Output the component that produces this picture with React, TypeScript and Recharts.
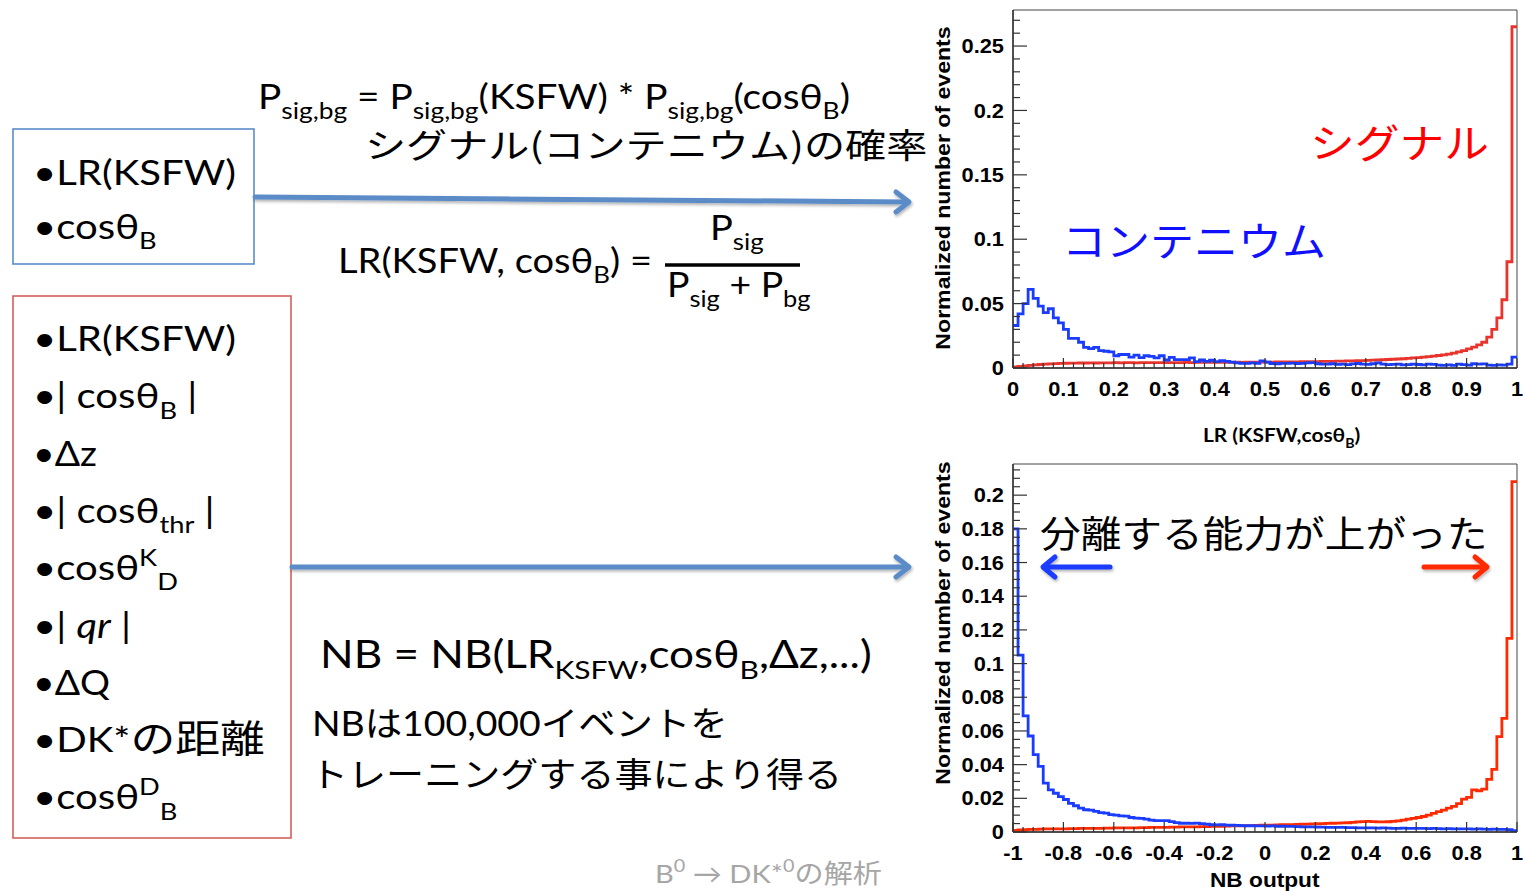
import React from "react";
import { LineChart, Line, XAxis, YAxis, ReferenceArea } from "recharts";

// ---- LR (KSFW, cos theta_B) histogram, 100 bins on [0, 1] ----
const LR_CONTINUUM = [
  0.033, 0.042, 0.05, 0.061, 0.054, 0.048, 0.043, 0.046, 0.039, 0.035,
  0.03, 0.023, 0.023, 0.02, 0.016, 0.015, 0.016, 0.0135, 0.013, 0.0125,
  0.0095, 0.0105, 0.0105, 0.0085, 0.01, 0.008, 0.0095, 0.009, 0.0078, 0.0095,
  0.0062, 0.0082, 0.0065, 0.0065, 0.0065, 0.0078, 0.005, 0.0062, 0.0052, 0.006,
  0.005, 0.0058, 0.0052, 0.0045, 0.004, 0.0036, 0.0036, 0.004, 0.0036, 0.0055,
  0.0045, 0.0035, 0.0033, 0.0036, 0.0036, 0.0038, 0.0035, 0.0036, 0.004, 0.0042,
  0.0033, 0.003, 0.003, 0.0033, 0.0028, 0.003, 0.0026, 0.0032, 0.0035, 0.003,
  0.0028, 0.0033, 0.004, 0.003, 0.0026, 0.0028, 0.003, 0.0024, 0.0026, 0.003,
  0.0027, 0.0024, 0.003, 0.0028, 0.0022, 0.002, 0.0024, 0.002, 0.003, 0.0026,
  0.0022, 0.0033, 0.003, 0.0032, 0.0022, 0.002, 0.0024, 0.0022, 0.003, 0.0085,
];
const LR_SIGNAL = [
  0.0008, 0.0012, 0.0016, 0.002, 0.0024, 0.0027, 0.003, 0.0032, 0.0034, 0.0036,
  0.0037, 0.0038, 0.0038, 0.0039, 0.0039, 0.004, 0.0039, 0.004, 0.004, 0.004,
  0.0041, 0.004, 0.0041, 0.0041, 0.004, 0.0041, 0.0042, 0.0041, 0.0041, 0.0042,
  0.0042, 0.0041, 0.0042, 0.0042, 0.0043, 0.0042, 0.0043, 0.0043, 0.0043, 0.0044,
  0.0043, 0.0044, 0.0044, 0.0044, 0.0045, 0.0044, 0.0045, 0.0045, 0.0046, 0.0045,
  0.0046, 0.0046, 0.0047, 0.0047, 0.0047, 0.0048, 0.0048, 0.0049, 0.0049, 0.005,
  0.005, 0.0051, 0.0052, 0.0052, 0.0053, 0.0054, 0.0055, 0.0056, 0.0057, 0.0058,
  0.0059, 0.0061, 0.0062, 0.0064, 0.0066, 0.0068, 0.007, 0.0072, 0.0075, 0.0078,
  0.0081, 0.0084, 0.0088, 0.0092, 0.0097, 0.0102, 0.0108, 0.0115, 0.0125, 0.0135,
  0.0148, 0.0162, 0.018, 0.02, 0.024, 0.03, 0.039, 0.053, 0.0825, 0.265,
];

// ---- NB output histogram, 100 bins on [-1, 1] ----
const NB_CONTINUUM = [
  0.18, 0.105, 0.069, 0.057, 0.046, 0.039, 0.029, 0.025, 0.023, 0.021,
  0.0193, 0.017, 0.0156, 0.0142, 0.0132, 0.013, 0.0122, 0.0115, 0.0112, 0.0103,
  0.01, 0.0096, 0.0094, 0.0086, 0.0082, 0.0081, 0.0076, 0.007, 0.0068, 0.0067,
  0.0067, 0.0062, 0.0056, 0.0052, 0.0052, 0.0051, 0.0053, 0.005, 0.0047, 0.0043,
  0.0042, 0.0043, 0.0041, 0.004, 0.0039, 0.0038, 0.0037, 0.0037, 0.0036, 0.0036,
  0.0035, 0.0036, 0.0034, 0.0034, 0.0033, 0.0033, 0.0032, 0.0031, 0.0031, 0.003,
  0.0029, 0.0029, 0.0028, 0.0028, 0.0027, 0.0027, 0.0026, 0.0026, 0.0025, 0.0025,
  0.0024, 0.0024, 0.0023, 0.0024, 0.0023, 0.0022, 0.0022, 0.0023, 0.0022, 0.0021,
  0.0022, 0.0021, 0.002, 0.0021, 0.002, 0.0019, 0.002, 0.0019, 0.0018, 0.0019,
  0.0018, 0.0017, 0.0018, 0.0017, 0.0016, 0.0017, 0.0016, 0.0015, 0.0014, 0.0008,
];
const NB_SIGNAL = [
  0.001, 0.0012, 0.0014, 0.0015, 0.0016, 0.0017, 0.0018, 0.0018, 0.0019, 0.0019,
  0.0019, 0.002, 0.002, 0.0021, 0.0021, 0.0021, 0.0022, 0.0022, 0.0023, 0.0023,
  0.0024, 0.0024, 0.0024, 0.0025, 0.0025, 0.0026, 0.0026, 0.0027, 0.0027, 0.0028,
  0.0028, 0.0029, 0.0029, 0.003, 0.003, 0.0031, 0.0031, 0.0032, 0.0032, 0.0033,
  0.0034, 0.0034, 0.0035, 0.0036, 0.0036, 0.0037, 0.0038, 0.0038, 0.0039, 0.004,
  0.0041, 0.0041, 0.0042, 0.0043, 0.0043, 0.0044, 0.0045, 0.0046, 0.0047, 0.0048,
  0.0049, 0.005, 0.0051, 0.0052, 0.0053, 0.0054, 0.0055, 0.0057, 0.006, 0.0062,
  0.0063, 0.0062, 0.006, 0.006, 0.0061, 0.0063, 0.0066, 0.0071, 0.0076, 0.0081,
  0.0086, 0.0092, 0.01, 0.011, 0.0121, 0.013, 0.0142, 0.0152, 0.0168, 0.0195,
  0.0205, 0.025, 0.0245, 0.0255, 0.0313, 0.0372, 0.0566, 0.0675, 0.115, 0.208,
];

const LR_X_MAJOR = [0, 0.1, 0.2, 0.3, 0.4, 0.5, 0.6, 0.7, 0.8, 0.9, 1];
const LR_X_LABELS = ["0", "0.1", "0.2", "0.3", "0.4", "0.5", "0.6", "0.7", "0.8", "0.9", "1"];
const LR_Y_MAJOR = [0, 0.05, 0.1, 0.15, 0.2, 0.25];
const LR_Y_LABELS = ["0", "0.05", "0.1", "0.15", "0.2", "0.25"];

const NB_X_MAJOR = [-1, -0.8, -0.6, -0.4, -0.2, 0, 0.2, 0.4, 0.6, 0.8, 1];
const NB_X_LABELS = ["-1", "-0.8", "-0.6", "-0.4", "-0.2", "0", "0.2", "0.4", "0.6", "0.8", "1"];
const NB_Y_MAJOR = [0, 0.02, 0.04, 0.06, 0.08, 0.1, 0.12, 0.14, 0.16, 0.18, 0.2];
const NB_Y_LABELS = ["0", "0.02", "0.04", "0.06", "0.08", "0.1", "0.12", "0.14", "0.16", "0.18", "0.2"];

const SLIDE_FONT = "Lato, 'Noto Sans CJK JP', sans-serif";
const ROOT_FONT = "'Liberation Sans', Arial, sans-serif";
const JP_FONT = "'Noto Sans CJK JP', sans-serif";

function minorTicks(lo: number, hi: number, step: number) {
  const out: number[] = [];
  const n = Math.round((hi - lo) / step);
  for (let i = 0; i <= n; i++) out.push(Math.round((lo + i * step) * 1e6) / 1e6);
  return out;
}

function histRows(lo: number, hi: number, blue: number[], red: number[]) {
  const n = blue.length;
  const w = (hi - lo) / n;
  const rows = [];
  for (let i = 0; i <= n; i++) {
    const k = Math.min(i, n - 1);
    rows.push({ x: Math.round((lo + i * w) * 1e6) / 1e6, blue: blue[k], red: red[k] });
  }
  return rows;
}

function findMajor(v: number, major: number[]) {
  return major.findIndex((m) => Math.abs(m - v) < 1e-7);
}

function YTick(props: any) {
  const { x, y, payload, major, labels } = props;
  const idx = findMajor(payload.value, major);
  return (
    <g>
      <line x1={x} x2={x + (idx >= 0 ? 14 : 7)} y1={y} y2={y} stroke="#333" strokeWidth={1.2} />
      {idx >= 0 && (
        <text
          transform={`translate(${x - 9},${y}) scale(1.12,1)`}
          textAnchor="end"
          dominantBaseline="central"
          fontFamily={ROOT_FONT}
          fontWeight="bold"
          fontSize={19.5}
          fill="#000"
        >
          {labels[idx]}
        </text>
      )}
    </g>
  );
}

function XTick(props: any) {
  const { x, y, payload, major, labels } = props;
  const idx = findMajor(payload.value, major);
  return (
    <g>
      <line x1={x} x2={x} y1={y} y2={y - (idx >= 0 ? 10 : 5)} stroke="#333" strokeWidth={1.2} />
      {idx >= 0 && (
        <text
          transform={`translate(${x},${y + 21}) scale(1.12,1)`}
          textAnchor="middle"
          dominantBaseline="central"
          fontFamily={ROOT_FONT}
          fontWeight="bold"
          fontSize={19.5}
          fill="#000"
        >
          {labels[idx]}
        </text>
      )}
    </g>
  );
}

function Hist(props: any) {
  const { rows, lo, hi, yMax, xTicks, xMajor, xLabels, yTicks, yMajor, yLabels, red, blue, height } = props;
  return (
    <LineChart width={593} height={height} data={rows} margin={{ top: 10, right: 6, bottom: 0, left: 0 }}>
      <XAxis
        dataKey="x"
        type="number"
        domain={[lo, hi]}
        allowDataOverflow
        ticks={xTicks}
        interval={0}
        height={32}
        tickSize={0}
        tickMargin={0}
        tickLine={false}
        axisLine={{ stroke: "#333", strokeWidth: 1.5 }}
        tick={(p: any) => <XTick {...p} major={xMajor} labels={xLabels} />}
      />
      <YAxis
        type="number"
        domain={[0, yMax]}
        allowDataOverflow
        ticks={yTicks}
        interval={0}
        width={83}
        tickSize={0}
        tickMargin={0}
        tickLine={false}
        axisLine={{ stroke: "#333", strokeWidth: 1.5 }}
        tick={(p: any) => <YTick {...p} major={yMajor} labels={yLabels} />}
      />
      <ReferenceArea x1={lo} x2={hi} y1={0} y2={yMax} fill="none" stroke="#444" strokeWidth={1} ifOverflow="visible" />
      <Line type="stepAfter" dataKey="red" stroke={red} strokeWidth={2.8} dot={false} isAnimationActive={false} />
      <Line type="stepAfter" dataKey="blue" stroke={blue} strokeWidth={2.8} dot={false} isAnimationActive={false} />
    </LineChart>
  );
}

type Seg = { t: string; sub?: boolean; sup?: boolean; italic?: boolean; size?: number };

function Txt(props: {
  x: number;
  y: number;
  size: number;
  sx?: number;
  fill?: string;
  weight?: string;
  family?: string;
  segs: Seg[];
}) {
  const { x, y, size, sx = 1.18, fill = "#000", weight = "normal", family = SLIDE_FONT, segs } = props;
  let shift = 0;
  return (
    <text
      transform={`translate(${x},${y}) scale(${sx},1)`}
      fontFamily={family}
      fontSize={size}
      fontWeight={weight}
      fill={fill}
      style={{ whiteSpace: "pre" }}
    >
      {segs.map((s, i) => {
        const target = s.sub ? size * 0.3 : s.sup ? -size * 0.42 : 0;
        const dy = target - shift;
        shift = target;
        return (
          <tspan
            key={i}
            dy={dy}
            fontSize={s.size ?? (s.sub || s.sup ? size * 0.68 : size)}
            fontStyle={s.italic ? "italic" : "normal"}
          >
            {s.t}
          </tspan>
        );
      })}
    </text>
  );
}

const LR_ROWS = histRows(0, 1, LR_CONTINUUM, LR_SIGNAL);
const NB_ROWS = histRows(-1, 1, NB_CONTINUUM, NB_SIGNAL);

export default function App() {
  const rowY = (k: number) => 351 + k * 57.3;
  return (
    <div style={{ position: "absolute", left: 0, top: 0, width: 1523, height: 891, background: "#fff", overflow: "hidden" }}>
      <div style={{ position: "absolute", left: 930, top: 0 }}>
        <Hist
          rows={LR_ROWS}
          lo={0}
          hi={1}
          yMax={0.278}
          height={400}
          xTicks={minorTicks(0, 1, 0.02)}
          xMajor={LR_X_MAJOR}
          xLabels={LR_X_LABELS}
          yTicks={minorTicks(0, 0.27, 0.01)}
          yMajor={LR_Y_MAJOR}
          yLabels={LR_Y_LABELS}
          red="#e8342c"
          blue="#1a3cff"
        />
      </div>
      <div style={{ position: "absolute", left: 930, top: 454 }}>
        <Hist
          rows={NB_ROWS}
          lo={-1}
          hi={1}
          yMax={0.2185}
          height={410}
          xTicks={minorTicks(-1, 1, 0.04)}
          xMajor={NB_X_MAJOR}
          xLabels={NB_X_LABELS}
          yTicks={minorTicks(0, 0.215, 0.005)}
          yMajor={NB_Y_MAJOR}
          yLabels={NB_Y_LABELS}
          red="#ff2a00"
          blue="#1a3cff"
        />
      </div>

      <svg width={1523} height={891} style={{ position: "absolute", left: 0, top: 0, pointerEvents: "none" }}>
        <defs>
          <filter id="sh" x="-5%" y="-50%" width="110%" height="200%">
            <feDropShadow dx="1" dy="2" stdDeviation="1.5" floodColor="#000" floodOpacity="0.3" />
          </filter>
        </defs>

        {/* boxes */}
        <rect x={13} y={129} width={241} height={135} fill="none" stroke="#5b8cc8" strokeWidth={1.6} />
        <rect x={13} y={296} width={278} height={542} fill="none" stroke="#d0605c" strokeWidth={1.6} />

        {/* long arrows */}
        <g filter="url(#sh)" stroke="#5b8cc8" strokeWidth={5} fill="none" strokeLinecap="round">
          <line x1={255} y1={197} x2={908} y2={202} />
          <polyline points="896,192 909,202 896,212" strokeLinejoin="round" />
          <line x1={292} y1={567} x2={908} y2={567} />
          <polyline points="896,557 909,567 896,577" strokeLinejoin="round" />
        </g>

        {/* blue box */}
        <Txt x={33} y={185} size={34} segs={[{ t: "•LR(KSFW)" }]} />
        <Txt x={33} y={239} size={34} segs={[{ t: "•cosθ" }, { t: "B", sub: true }]} />

        {/* red box */}
        <Txt x={33} y={rowY(0)} size={34} segs={[{ t: "•LR(KSFW)" }]} />
        <Txt x={33} y={rowY(1)} size={34} segs={[{ t: "•| cosθ" }, { t: "B", sub: true }, { t: " |" }]} />
        <Txt x={33} y={rowY(2)} size={34} sx={1.1} segs={[{ t: "•Δz" }]} />
        <Txt x={33} y={rowY(3)} size={34} segs={[{ t: "•| cosθ" }, { t: "thr", sub: true }, { t: " |" }]} />
        <Txt x={33} y={rowY(4)} size={34} segs={[{ t: "•cosθ" }, { t: "K", sup: true }, { t: "D", sub: true }]} />
        <Txt x={33} y={rowY(5)} size={34} segs={[{ t: "•| " }, { t: "qr", italic: true }, { t: " |" }]} />
        <Txt x={33} y={rowY(6)} size={34} sx={1.1} segs={[{ t: "•ΔQ" }]} />
        <Txt x={33} y={rowY(7)} size={34} segs={[{ t: "•DK*" }, { t: "の距離", size: 38 }]} />
        <Txt x={33} y={rowY(8)} size={34} segs={[{ t: "•cosθ" }, { t: "D", sup: true }, { t: "B", sub: true }]} />

        {/* formulas */}
        <Txt
          x={258}
          y={109}
          size={34}
          sx={1.14}
          segs={[
            { t: "P" },
            { t: "sig,bg", sub: true },
            { t: " = P" },
            { t: "sig,bg", sub: true },
            { t: "(KSFW) * P" },
            { t: "sig,bg", sub: true },
            { t: "(cosθ" },
            { t: "B", sub: true },
            { t: ")" },
          ]}
        />
        <Txt x={365} y={158} size={34} family={JP_FONT} sx={1.21} segs={[{ t: "シグナル(コンテニウム)の確率" }]} />

        <Txt x={338} y={273} size={34} sx={1.12} segs={[{ t: "LR(KSFW, cosθ" }, { t: "B", sub: true }, { t: ") =" }]} />
        <line x1={665} y1={265} x2={800} y2={265} stroke="#000" strokeWidth={3.5} />
        <Txt x={710} y={240} size={34} sx={1.12} segs={[{ t: "P" }, { t: "sig", sub: true }]} />
        <Txt
          x={667}
          y={297}
          size={34}
          sx={1.1}
          segs={[{ t: "P" }, { t: "sig", sub: true }, { t: " + P" }, { t: "bg", sub: true }]}
        />

        <Txt
          x={320}
          y={668}
          size={38}
          sx={1.16}
          segs={[
            { t: "NB = NB(LR" },
            { t: "KSFW", sub: true },
            { t: ",cosθ" },
            { t: "B", sub: true },
            { t: ",Δz,...)" },
          ]}
        />
        <Txt x={312} y={736} size={34} sx={1.1} segs={[{ t: "NBは100,000イベントを" }]} />
        <Txt x={310} y={787} size={34} sx={1.12} segs={[{ t: "トレーニングする事により得る" }]} />

        <Txt
          x={655}
          y={883}
          size={26}
          sx={1.12}
          fill="#a6a6a6"
          segs={[{ t: "B" }, { t: "0", sup: true }, { t: " → DK*" }, { t: "0", sup: true }, { t: "の解析" }]}
        />

        {/* chart annotations */}
        <Txt x={1310} y={158} size={40} sx={1.12} fill="#ff0000" family={JP_FONT} segs={[{ t: "シグナル" }]} />
        <Txt x={1062} y={256} size={40} sx={1.1} fill="#1010ff" family={JP_FONT} segs={[{ t: "コンテニウム" }]} />
        <Txt x={1040} y={548} size={37} sx={1.1} family={JP_FONT} segs={[{ t: "分離する能力が上がった" }]} />

        <g filter="url(#sh)" fill="none" strokeWidth={5} strokeLinecap="round" strokeLinejoin="round">
          <line x1={1110} y1={567} x2={1044} y2={567} stroke="#1a3cff" />
          <polyline points="1055,557 1043,567 1055,577" stroke="#1a3cff" />
          <line x1={1424} y1={567} x2={1486} y2={567} stroke="#ff2a00" />
          <polyline points="1475,557 1487,567 1475,577" stroke="#ff2a00" />
        </g>

        {/* axis titles */}
        <text
          transform="translate(950,188) rotate(-90) scale(1.1,1)"
          textAnchor="middle"
          fontFamily={ROOT_FONT}
          fontWeight="bold"
          fontSize={21}
          fill="#000"
        >
          Normalized number of events
        </text>
        <text
          transform="translate(950,623) rotate(-90) scale(1.1,1)"
          textAnchor="middle"
          fontFamily={ROOT_FONT}
          fontWeight="bold"
          fontSize={21}
          fill="#000"
        >
          Normalized number of events
        </text>
        <Txt
          x={1203}
          y={442}
          size={19}
          sx={1.1}
          weight="bold"
          segs={[{ t: "LR (KSFW,cosθ" }, { t: "B", sub: true }, { t: ")" }]}
        />
        <Txt x={1210} y={887} size={21} sx={1.08} weight="bold" family={ROOT_FONT} segs={[{ t: "NB output" }]} />
      </svg>
    </div>
  );
}
